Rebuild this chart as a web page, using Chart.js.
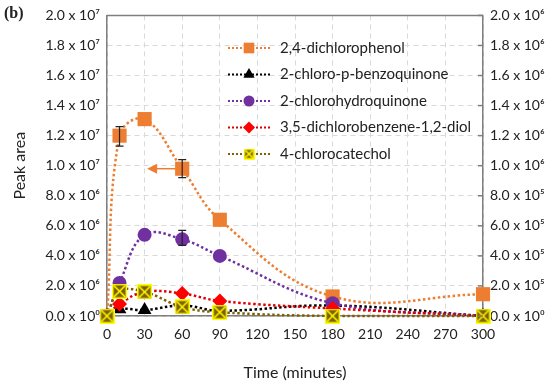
<!DOCTYPE html>
<html>
<head>
<meta charset="utf-8">
<script src="https://cdn.jsdelivr.net/npm/chart.js@4"></script>
<style>
  html, body { margin: 0; padding: 0; background: #fff; }
  #wrap { position: relative; width: 550px; height: 385px; }
  #tag { position: absolute; left: 4px; top: 4px; font: bold 16px "Liberation Serif", serif; color: #222; }
</style>
</head>
<body>
<div id="wrap">
  <canvas id="chart" width="550" height="385"></canvas>
  <div id="tag">(b)</div>
</div>
<script>
// data
const times = [0, 10, 30, 60, 90, 180, 300];
const dichlorophenol = [0, 1.20e7, 1.31e7, 0.98e7, 0.64e7, 0.13e7, 0.145e7]; // left axis
const benzoquinone = [0, 0.45e5, 0.4e5, 0.7e5, 0.35e5, 0.7e5, 0];            // right axis
const hydroquinone = [0, 2.2e5, 5.4e5, 5.1e5, 4.0e5, 0.85e5, 0];
const dichlorobenzenediol = [0, 0.8e5, 1.6e5, 1.5e5, 1.0e5, 0.5e5, 0];
const chlorocatechol = [0, 1.65e5, 1.6e5, 0.6e5, 0.25e5, 0, 0];
const labels = ["2,4-dichlorophenol", "2-chloro-p-benzoquinone", "2-chlorohydroquinone",
  "3,5-dichlorobenzene-1,2-diol", "4-chlorocatechol"];
// error bars [time, low, high, axis]
const errBars = [[10, 1.13e7, 1.26e7, "y"], [60, 0.92e7, 1.04e7, "y"], [60, 4.7e5, 5.7e5, "y2"]];
// arrow pointing to left axis
const arrowY = 0.98e7;
const arrowX = [56, 32];
const leftTicks = { min: 0, max: 2.0e7, step: 0.2e7 };
const rightTicks = { min: 0, max: 2.0e6, step: 0.2e6 };

const sup = { "0": "⁰", "1": "¹", "2": "²", "3": "³", "4": "⁴", "5": "⁵", "6": "⁶", "7": "⁷", "8": "⁸", "9": "⁹" };
function sci(v) {
  if (v < 1e-6) return "0.0 x 10⁰";
  const e = Math.floor(Math.log10(v) + 1e-9);
  const m = v / Math.pow(10, e);
  return m.toFixed(1) + " x 10" + String(e).split("").map(c => sup[c]).join("");
}

// olive square with yellow cross
function crossBox(size) {
  const c = document.createElement("canvas");
  c.width = size; c.height = size;
  const g = c.getContext("2d");
  g.fillStyle = "#7f6000";
  g.fillRect(0, 0, size, size);
  g.strokeStyle = "#ffff00";
  g.lineWidth = 1.5;
  g.strokeRect(0.75, 0.75, size - 1.5, size - 1.5);
  g.beginPath();
  g.moveTo(2, 2); g.lineTo(size - 2, size - 2);
  g.moveTo(size - 2, 2); g.lineTo(2, size - 2);
  g.stroke();
  return c;
}
const xBig = crossBox(15);
const xSmall = crossBox(11);

const styles = [
  { line: "#ed7d31", fill: "#ed7d31", point: "rect", r: 10, lr: 7.5 },
  { line: "#000000", fill: "#000000", point: "triangle", r: 8, lr: 6.5 },
  { line: "#7030a0", fill: "#7030a0", point: "circle", r: 7, lr: 5.5 },
  { line: "#e00000", fill: "#ff0000", point: "rectRot", r: 7.5, lr: 6 },
  { line: "#7f6000", fill: "#7f6000", point: xBig, r: 7, lr: 5.5, legendPoint: xSmall }
];
const series = [dichlorophenol, benzoquinone, hydroquinone, dichlorobenzenediol, chlorocatechol];

const datasets = series.map((vals, i) => ({
  label: labels[i],
  data: times.map((t, j) => ({ x: t, y: vals[j] })),
  yAxisID: i === 0 ? "y" : "y2",
  borderColor: styles[i].line,
  backgroundColor: styles[i].fill,
  pointBorderColor: styles[i].fill,
  borderWidth: 2.5,
  borderDash: [2.5, 2.5],
  tension: 0.4,
  pointStyle: styles[i].point,
  pointRadius: styles[i].r,
  pointBorderWidth: 0,
  clip: false,
  order: 5 - i
}));

const family = "Lato, 'Open Sans', sans-serif";
const font = { family, size: 14, weight: "normal" };

const extras = {
  id: "extras",
  afterDatasetsDraw(chart) {
    const ctx = chart.ctx;
    const xs = chart.scales.x;
    const area = chart.chartArea;
    ctx.save();
    // top border of the box
    ctx.strokeStyle = "#7f7f7f";
    ctx.lineWidth = 1.5;
    ctx.beginPath();
    ctx.moveTo(area.left, area.top);
    ctx.lineTo(area.right, area.top);
    ctx.stroke();
    // inside tick marks on right axis
    const y2 = chart.scales.y2;
    y2.ticks.forEach(t => {
      const py = y2.getPixelForValue(t.value);
      ctx.beginPath();
      ctx.moveTo(area.right - 5, py);
      ctx.lineTo(area.right, py);
      ctx.stroke();
    });
    // error bars
    ctx.strokeStyle = "#222";
    ctx.lineWidth = 1.2;
    errBars.forEach(([t, lo, hi, ax]) => {
      const s = chart.scales[ax];
      const px = xs.getPixelForValue(t);
      const p1 = s.getPixelForValue(lo), p2 = s.getPixelForValue(hi);
      ctx.beginPath();
      ctx.moveTo(px, p1); ctx.lineTo(px, p2);
      ctx.moveTo(px - 4, p1); ctx.lineTo(px + 4, p1);
      ctx.moveTo(px - 4, p2); ctx.lineTo(px + 4, p2);
      ctx.stroke();
    });
    // arrow
    const ay = chart.scales.y.getPixelForValue(arrowY);
    const ax0 = xs.getPixelForValue(arrowX[0]), ax1 = xs.getPixelForValue(arrowX[1]);
    ctx.strokeStyle = "#ed7d31";
    ctx.fillStyle = "#ed7d31";
    ctx.lineWidth = 1.5;
    ctx.beginPath();
    ctx.moveTo(ax0, ay); ctx.lineTo(ax1 + 8, ay);
    ctx.stroke();
    ctx.beginPath();
    ctx.moveTo(ax1, ay); ctx.lineTo(ax1 + 10, ay - 5); ctx.lineTo(ax1 + 10, ay + 5);
    ctx.closePath();
    ctx.fill();
    // legend
    const lx0 = 228, lx1 = 270, tx = 280;
    ctx.font = "15px " + family;
    ctx.textBaseline = "middle";
    labels.forEach((lab, i) => {
      const y = 48 + i * 26.5;
      ctx.strokeStyle = styles[i].line;
      ctx.lineWidth = 2;
      ctx.setLineDash([2, 2]);
      ctx.beginPath();
      ctx.moveTo(lx0, y); ctx.lineTo(lx1, y);
      ctx.stroke();
      ctx.setLineDash([]);
      ctx.fillStyle = styles[i].fill;
      ctx.strokeStyle = styles[i].fill;
      Chart.helpers.drawPoint(ctx, {
        pointStyle: styles[i].legendPoint || styles[i].point,
        radius: styles[i].lr, borderWidth: 0, rotation: 0
      }, (lx0 + lx1) / 2, y);
      ctx.fillStyle = "#222";
      ctx.fillText(lab, tx, y);
    });
    ctx.restore();
  }
};

const gridStyle = { color: "#d9d9d9", lineWidth: 1, drawTicks: false };
const borderStyle = { color: "#7f7f7f", width: 1.5, dash: [5, 4] };
const titleFont = { family, size: 16, weight: "normal" };

new Chart(document.getElementById("chart").getContext("2d"), {
  type: "line",
  data: { datasets },
  options: {
    responsive: false,
    animation: false,
    layout: { padding: { top: 14, right: 0, bottom: 0, left: 0 } },
    plugins: { legend: { display: false }, tooltip: { enabled: false } },
    scales: {
      x: {
        type: "linear",
        min: 0, max: 300,
        grid: { color: "#d9d9d9", drawTicks: false },
        border: borderStyle,
        ticks: { stepSize: 30, padding: 10, color: "#222", font, maxRotation: 0 },
        title: { display: true, text: "Time (minutes)", color: "#222", font: titleFont, padding: { top: 0, bottom: 3 } },
        afterFit(s) { s.height = 69; }
      },
      y: {
        position: "left",
        min: leftTicks.min, max: leftTicks.max,
        grid: gridStyle,
        border: borderStyle,
        ticks: { stepSize: leftTicks.step, padding: 7, color: "#222", font, callback: v => sci(v) },
        title: { display: true, text: "Peak area", color: "#222", font: titleFont, padding: { top: 10, bottom: 0 } },
        afterFit(s) { s.width = 107; }
      },
      y2: {
        position: "right",
        min: rightTicks.min, max: rightTicks.max,
        grid: { drawOnChartArea: false, drawTicks: false },
        border: { color: "#7f7f7f", width: 1.5 },
        ticks: { stepSize: rightTicks.step, padding: 7, color: "#222", font, callback: v => sci(v) },
        afterFit(s) { s.width = 67; }
      }
    }
  },
  plugins: [extras]
});
</script>
</body>
</html>
